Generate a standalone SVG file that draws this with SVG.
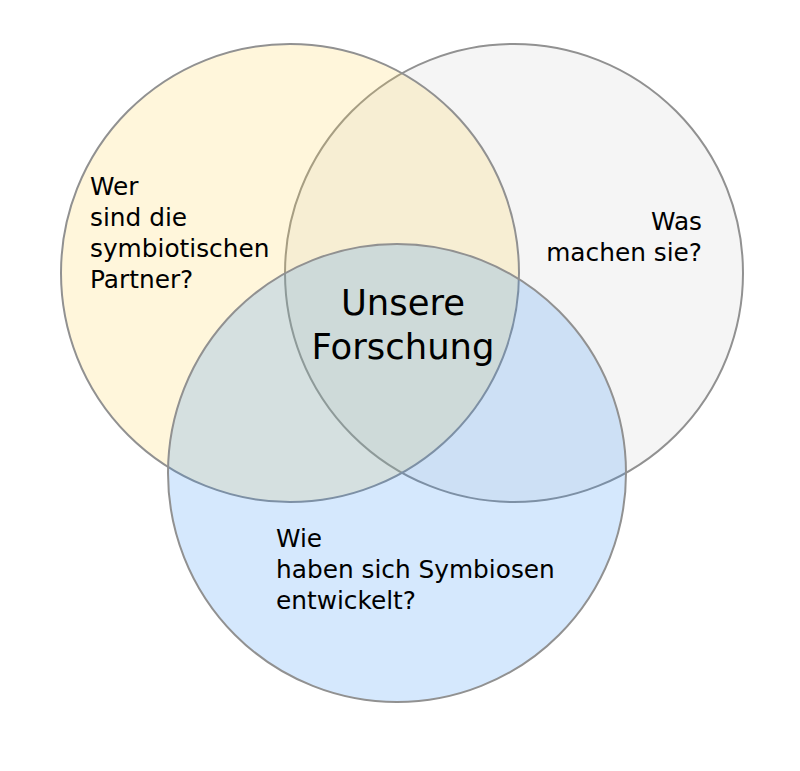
<svg xmlns="http://www.w3.org/2000/svg" width="800" height="771" viewBox="0 0 800 771">
<style>
.c{stroke:#919191;stroke-width:2}
.t{font-family:"DejaVu Sans",sans-serif;fill:#000}
.s{font-size:24.8px}
.b{font-size:35.4px}
</style>
<rect width="800" height="771" fill="#ffffff"/>
<g id="right"><circle class="c" cx="514" cy="273" r="229" fill="#f5f5f5"/></g>
<g id="left"><circle class="c" cx="290" cy="273" r="229" fill="#ffd24b" fill-opacity="0.2"/></g>
<g id="bottom"><circle class="c" cx="397" cy="473" r="229" fill="#2d8cf5" fill-opacity="0.2"/></g>
<g id="labels">
<text class="t s" x="90" y="195">Wer</text>
<text class="t s" x="90" y="226">sind die</text>
<text class="t s" x="90" y="257">symbiotischen</text>
<text class="t s" x="90" y="288">Partner?</text>
<text class="t s" x="702" y="230" text-anchor="end">Was</text>
<text class="t s" x="702" y="261" text-anchor="end">machen sie?</text>
<text class="t s" x="276" y="547">Wie</text>
<text class="t s" x="276" y="578">haben sich Symbiosen</text>
<text class="t s" x="276" y="609">entwickelt?</text>
<text class="t b" x="403" y="315" text-anchor="middle">Unsere</text>
<text class="t b" x="403" y="359" text-anchor="middle">Forschung</text>
</g>
<g id="connectors"/>
</svg>
